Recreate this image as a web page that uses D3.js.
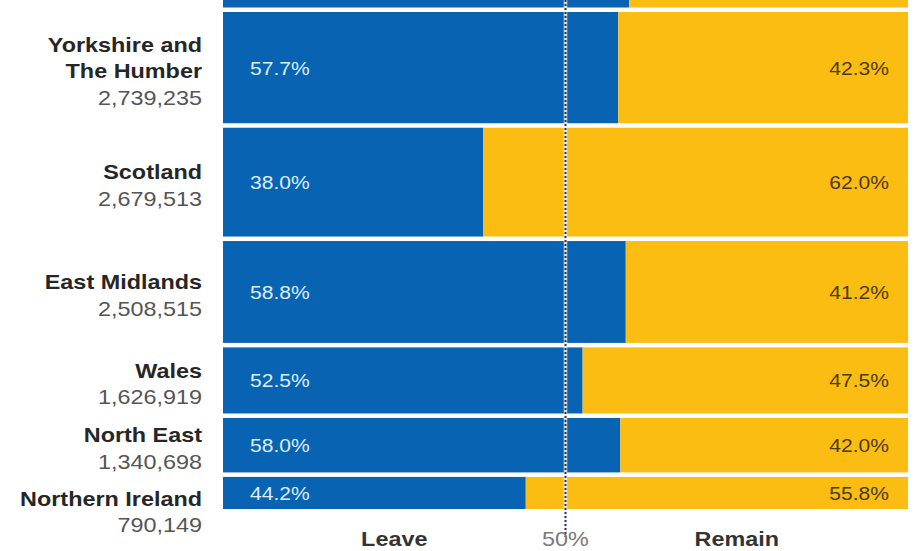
<!DOCTYPE html>
<html>
<head>
<meta charset="utf-8">
<script src="https://cdn.jsdelivr.net/npm/d3@7"></script>
<style>
    body { margin: 0; background: #fff; }
    text { font-family: "Liberation Sans", Arial, Helvetica, sans-serif; }
</style>
</head>
<body>
<div id="chart"></div>
<script>
// regions, top to bottom (West Midlands is cut off at the top of the picture)
let regions = ["West Midlands", "Yorkshire and\nThe Humber", "Scotland", "East Midlands", "Wales", "North East", "Northern Ireland"];
let electorate = [4116572, 2739235, 2679513, 2508515, 1626919, 1340698, 790149];
let leave = [59.3, 57.7, 38.0, 58.8, 52.5, 58.0, 44.2];
let remain = [40.7, 42.3, 62.0, 41.2, 47.5, 42.0, 55.8];
let axisLabels = [{ v: 25, t: "Leave", bold: true }, { v: 50, t: "50%", bold: false }, { v: 75, t: "Remain", bold: true }];

let width = 914;
let height = 551;
let margin = { left: 223, right: 908, top: 12, bottom: 509 };
let gap = 4.5;
let stretch = 1.17;

let blue = "#0863b3";
let yellow = "#fcbd13";

let svg = d3.select("#chart")
    .append("svg")
        .attr("width", width)
        .attr("height", height);

let x = d3.scaleLinear().domain([0, 100]).range([margin.left, margin.right]);

let total = d3.sum(electorate);
let y = d3.scaleLinear()
    .domain([electorate[0], total])
    .range([margin.top, margin.bottom - (electorate.length - 2) * gap]);

let rows = regions.map(function (name, i) {
    let start = d3.sum(electorate.slice(0, i));
    let y0 = y(start) + (i - 1) * gap;
    let y1 = y(start + electorate[i]) + (i - 1) * gap;
    return {
        name: name,
        lines: name.split("\n"),
        count: electorate[i],
        leave: leave[i],
        remain: remain[i],
        y0: y0,
        y1: y1,
        mid: (y0 + y1) / 2
    };
});

// bars
let g = svg.append("g");

g.selectAll(".leave")
    .data(rows)
    .enter()
    .append("rect")
        .attr("class", "leave")
        .attr("x", x(0))
        .attr("y", function (d) { return d.y0; })
        .attr("width", function (d) { return x(d.leave) - x(0); })
        .attr("height", function (d) { return d.y1 - d.y0; })
        .attr("fill", blue);

g.selectAll(".remain")
    .data(rows)
    .enter()
    .append("rect")
        .attr("class", "remain")
        .attr("x", function (d) { return x(d.leave); })
        .attr("y", function (d) { return d.y0; })
        .attr("width", function (d) { return x(100) - x(d.leave); })
        .attr("height", function (d) { return d.y1 - d.y0; })
        .attr("fill", yellow);

// text helper: horizontally stretched like the source picture
function label(parent, px, py, str, opts) {
    return parent.append("text")
        .attr("transform", "translate(" + px + "," + py + ") scale(" + stretch + ",1)")
        .attr("text-anchor", opts.anchor)
        .attr("font-size", opts.size + "px")
        .attr("font-weight", opts.bold ? "bold" : "normal")
        .attr("fill", opts.color)
        .text(str);
}

let visible = rows.filter(function (d) { return d.mid > 0; });

// percentage labels
visible.forEach(function (d) {
    label(svg, x(0) + 27, d.mid + 7, d3.format(".1f")(d.leave) + "%",
        { anchor: "start", size: 18, bold: false, color: "#deeeff" });
    label(svg, x(100) - 19, d.mid + 7, d3.format(".1f")(d.remain) + "%",
        { anchor: "end", size: 18, bold: false, color: "#4a3a08" });
});

// region names and electorate
let lineH = 26.5;
let prevLast = -Infinity;
visible.forEach(function (d) {
    let n = d.lines.length + 1;
    let first = Math.max(d.mid - (n - 1) * lineH / 2 + 10.5, prevLast + 37);
    d.lines.forEach(function (t, j) {
        label(svg, 202, first + j * lineH, t, { anchor: "end", size: 20, bold: true, color: "#262626" });
    });
    let last = first + d.lines.length * lineH;
    label(svg, 202, last, d3.format(",")(d.count), { anchor: "end", size: 20, bold: false, color: "#555" });
    prevLast = last;
});

// 50% reference line
svg.append("line")
    .attr("x1", x(50)).attr("x2", x(50))
    .attr("y1", 0).attr("y2", 537)
    .attr("stroke", "#eef1f5")
    .attr("stroke-opacity", 0.85)
    .attr("stroke-width", 3.5);

svg.append("line")
    .attr("x1", x(50)).attr("x2", x(50))
    .attr("y1", 0).attr("y2", 537)
    .attr("stroke", "#2f3540")
    .attr("stroke-width", 2)
    .attr("stroke-dasharray", "2,2");

// bottom labels
axisLabels.forEach(function (a) {
    label(svg, x(a.v), 546, a.t, {
        anchor: "middle",
        size: 20,
        bold: a.bold,
        color: a.bold ? "#333" : "#7a7a7a"
    });
});
</script>
</body>
</html>
